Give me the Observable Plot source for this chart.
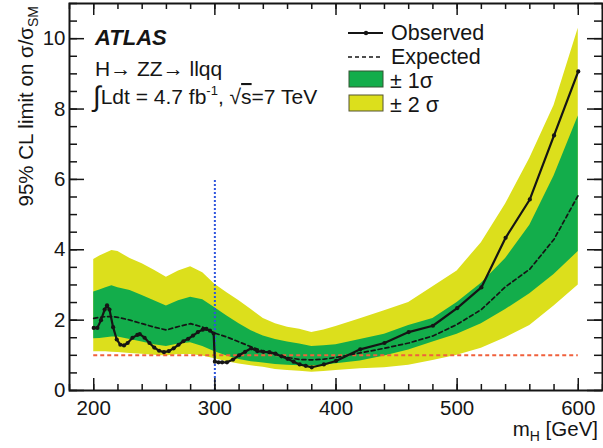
<!DOCTYPE html>
<html><head><meta charset="utf-8">
<script src="https://cdn.jsdelivr.net/npm/d3@7"></script>
<script src="https://cdn.jsdelivr.net/npm/@observablehq/plot@0.6"></script>
<style>body{margin:0;background:#fff}svg{display:block}</style>
</head><body><div id="chart"></div>
<script>
// ---- data ----
const massGrid = [200,205,210,215,220,230,240,250,260,270,280,290,300,310,320,330,340,350,360,370,380,390,400,420,440,460,480,500,520,540,560,580,600];
const expected = [2.05,2.08,2.1,2.1,2.08,2.0,1.9,1.8,1.72,1.82,1.9,1.8,1.63,1.52,1.38,1.24,1.12,1.02,0.94,0.88,0.87,0.89,0.94,1.07,1.2,1.35,1.55,1.88,2.3,2.95,3.45,4.3,5.55];
const sigma1Hi = [2.8,2.86,2.92,2.98,2.92,2.84,2.7,2.55,2.4,2.55,2.65,2.58,2.35,2.12,1.9,1.7,1.55,1.45,1.38,1.32,1.25,1.27,1.3,1.45,1.6,1.85,2.05,2.5,3.05,3.75,4.7,6.1,7.8];
const sigma1Lo = [1.47,1.48,1.5,1.52,1.52,1.45,1.38,1.3,1.25,1.32,1.36,1.25,1.1,0.98,0.88,0.82,0.78,0.74,0.72,0.7,0.7,0.72,0.76,0.84,0.98,1.15,1.38,1.6,1.9,2.3,2.75,3.3,3.95];
const sigma2Hi = [3.72,3.82,3.9,3.98,3.95,3.75,3.6,3.42,3.22,3.4,3.52,3.35,3.02,2.78,2.55,2.3,2.05,1.9,1.8,1.74,1.65,1.72,1.82,2.04,2.27,2.5,2.95,3.4,4.2,5.3,6.6,8.1,10.3];
const sigma2Lo = [1.1,1.1,1.1,1.09,1.08,1.05,1.03,1.0,0.98,1.02,1.02,0.98,0.9,0.82,0.75,0.7,0.66,0.6,0.57,0.55,0.52,0.54,0.57,0.62,0.65,0.72,0.85,1.0,1.2,1.5,1.85,2.4,3.0];

const obsMass = [200,203,206,209,211,213,216,219,222,225,228,232,236,238,242,246,250,254,258,262,266,270,274,278,282,286,290,293,296,299,300,303,306,310,315,320,325,330,335,340,345,350,355,360,365,370,375,380,390,400,420,440,460,480,500,520,540,560,580,600];
const observed = [1.78,1.78,2.0,2.3,2.42,2.3,1.8,1.45,1.3,1.28,1.35,1.5,1.58,1.6,1.5,1.35,1.22,1.13,1.09,1.12,1.2,1.3,1.4,1.47,1.56,1.66,1.73,1.75,1.7,1.62,0.82,0.8,0.8,0.8,0.88,1.0,1.1,1.2,1.12,1.1,1.09,1.05,0.97,0.9,0.82,0.74,0.7,0.66,0.74,0.84,1.17,1.35,1.66,1.84,2.34,2.93,4.34,5.43,7.25,9.07];

const smLevel = 1;
const boundaryMass = 300, boundaryTop = 6;
const xMajorTicks = [200,300,400,500,600];
const yMajorTicks = [0,2,4,6,8,10];
const xDomain = [180,620], yDomain = [0,11];

const bands = massGrid.map((m,i)=>({mass:m, exp:expected[i], lo1:sigma1Lo[i], hi1:sigma1Hi[i], lo2:sigma2Lo[i], hi2:sigma2Hi[i]}));
const obs = obsMass.map((m,i)=>({mass:m, value:observed[i]}));
const xMinor = d3.range(xDomain[0], xDomain[1]+1, 20);
const yMinor = d3.range(yDomain[0], yDomain[1]+0.01, 0.5);

const W = 603, H = 448, mL = 69, mR = 1, mT = 3, mB = 58;
const iW = W - mL - mR, iH = H - mT - mB;
const YELLOW = "#dcdf1c", GREEN = "#13ad4b", INK = "#151515";
const FONT = "'Liberation Sans', Arial, sans-serif";

const plot = Plot.plot({
  width: W, height: H,
  marginLeft: mL, marginRight: mR, marginTop: mT, marginBottom: mB,
  x: {domain: xDomain},
  y: {domain: yDomain},
  style: {fontFamily: FONT, fontSize: "20.5px", color: INK, background: "white"},
  marks: [
    Plot.areaY(bands, {x: "mass", y1: "lo2", y2: "hi2", fill: YELLOW}),
    Plot.areaY(bands, {x: "mass", y1: "lo1", y2: "hi1", fill: GREEN}),
    Plot.ruleY([smLevel], {x1: d3.min(massGrid), x2: d3.max(massGrid), stroke: "#f0603c", strokeWidth: 2, strokeDasharray: "4,3"}),
    Plot.ruleX([boundaryMass], {y1: yDomain[0], y2: boundaryTop, stroke: "#2f55dd", strokeWidth: 2, strokeDasharray: "2,2"}),
    Plot.line(bands, {x: "mass", y: "exp", stroke: INK, strokeWidth: 1.7, strokeDasharray: "4,3"}),
    Plot.line(obs, {x: "mass", y: "value", stroke: INK, strokeWidth: 2.2}),
    Plot.dot(obs, {x: "mass", y: "value", r: 2.1, fill: INK}),
    // ticks (inward, on all four sides)
    Plot.tickX(xMinor, {x: d=>d, stroke: INK, strokeWidth: 1.5, insetTop: iH - 6}),
    Plot.tickX(xMajorTicks, {x: d=>d, stroke: INK, strokeWidth: 1.5, insetTop: iH - 12}),
    Plot.tickX(xMinor, {x: d=>d, stroke: INK, strokeWidth: 1.5, insetBottom: iH - 6}),
    Plot.tickX(xMajorTicks, {x: d=>d, stroke: INK, strokeWidth: 1.5, insetBottom: iH - 12}),
    Plot.tickY(yMinor, {y: d=>d, stroke: INK, strokeWidth: 1.5, insetRight: iW - 8}),
    Plot.tickY(yMajorTicks, {y: d=>d, stroke: INK, strokeWidth: 1.5, insetRight: iW - 15}),
    Plot.tickY(yMinor, {y: d=>d, stroke: INK, strokeWidth: 1.5, insetLeft: iW - 8}),
    Plot.tickY(yMajorTicks, {y: d=>d, stroke: INK, strokeWidth: 1.5, insetLeft: iW - 15}),
    Plot.frame({stroke: INK, strokeWidth: 2}),
    Plot.axisX({ticks: xMajorTicks, tickSize: 0, tickPadding: 10, label: null}),
    Plot.axisY({ticks: yMajorTicks, tickSize: 0, tickPadding: 4, label: null})
  ]
});
document.getElementById("chart").appendChild(plot);

// ---- text, legend ----
const svg = d3.select(plot);
const g = svg.append("g").attr("font-family", FONT).attr("fill", INK).attr("text-anchor", "start");

// y-axis title
const yt = g.append("text").attr("transform", "translate(33,6) rotate(-90)").attr("text-anchor", "end").attr("font-size", 20.5);
yt.append("tspan").text("95% CL limit on σ/σ");
yt.append("tspan").attr("font-size", 14).attr("dy", 5).text("SM");

// x-axis title
const xt = g.append("text").attr("x", 598).attr("y", 436).attr("text-anchor", "end").attr("font-size", 20.5);
xt.append("tspan").text("m");
xt.append("tspan").attr("font-size", 14).attr("dy", 5).text("H");
xt.append("tspan").attr("dy", -5).text(" [GeV]");

// annotations
g.append("text").attr("x", 95).attr("y", 45).attr("font-size", 22).attr("font-weight", "bold").attr("font-style", "italic").text("ATLAS");
g.append("text").attr("x", 95).attr("y", 76).attr("font-size", 21).text("H→ ZZ→ llqq");
const lt = g.append("text").attr("x", 93).attr("y", 104).attr("font-size", 21);
lt.append("tspan").attr("font-size", 28).attr("dy", 2).text("∫");
lt.append("tspan").attr("dy", -2).text("Ldt = 4.7 fb");
lt.append("tspan").attr("font-size", 13).attr("dy", -9).text("-1");
lt.append("tspan").attr("dy", 9).text(", √");
lt.append("tspan").attr("text-decoration", "overline").text("s");
lt.append("tspan").text("=7 TeV");

// legend
const lg = g.append("g");
lg.append("line").attr("x1", 348).attr("x2", 383).attr("y1", 33).attr("y2", 33).attr("stroke", INK).attr("stroke-width", 2);
lg.append("circle").attr("cx", 366).attr("cy", 33).attr("r", 2.2).attr("fill", INK);
lg.append("text").attr("x", 391).attr("y", 40).attr("font-size", 21.5).text("Observed");
lg.append("line").attr("x1", 348).attr("x2", 383).attr("y1", 57).attr("y2", 57).attr("stroke", INK).attr("stroke-width", 1.7).attr("stroke-dasharray", "4,3");
lg.append("text").attr("x", 391).attr("y", 64).attr("font-size", 21.5).text("Expected");
lg.append("rect").attr("x", 349).attr("y", 71).attr("width", 34).attr("height", 16).attr("fill", GREEN).attr("stroke", "#335533").attr("stroke-width", 1);
lg.append("text").attr("x", 390).attr("y", 88).attr("font-size", 21.5).text("± 1σ");
lg.append("rect").attr("x", 349).attr("y", 95).attr("width", 34).attr("height", 16).attr("fill", YELLOW).attr("stroke", "#555533").attr("stroke-width", 1);
lg.append("text").attr("x", 390).attr("y", 112).attr("font-size", 21.5).text("± 2 σ");
</script></body></html>
